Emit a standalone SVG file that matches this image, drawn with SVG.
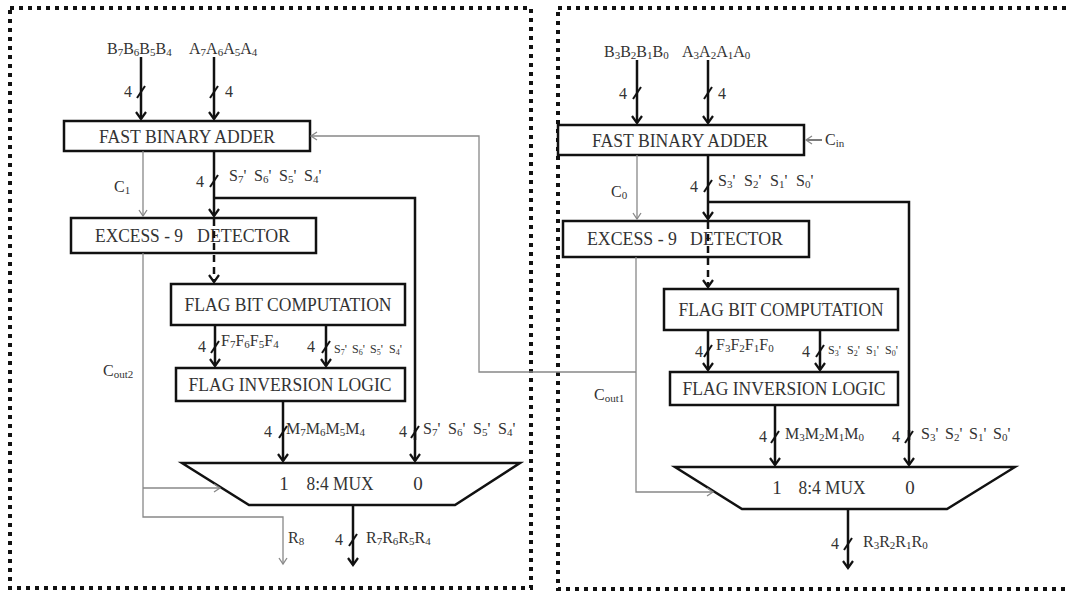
<svg xmlns="http://www.w3.org/2000/svg" width="1070" height="595" viewBox="0 0 1070 595">
<style>
.border{fill:none;stroke:#111;stroke-width:4;stroke-dasharray:4 5}
.box{fill:#fff;stroke:#111;stroke-width:2.5}
.bus{fill:none;stroke:#111;stroke-width:2.5;marker-end:url(#ah)}
.busn{fill:none;stroke:#111;stroke-width:2.5}
.dash{fill:none;stroke:#111;stroke-width:2.5;stroke-dasharray:7 5;marker-end:url(#ah)}
.thin{fill:none;stroke:#888;stroke-width:1.3;marker-end:url(#ta)}
.sl{stroke:#111;stroke-width:2}
.t{font-family:"Liberation Serif","Times New Roman",serif;fill:#333;font-size:16px}
.bt{font-family:"Liberation Serif","Times New Roman",serif;fill:#333;font-size:19px}
.sm{font-size:12px}
.sb{font-size:11px}
.sbs{font-size:8px}
</style>
<defs>
<marker id="ah" viewBox="-9 -7 11 14" markerWidth="11" markerHeight="14" refX="0" refY="0" orient="auto" markerUnits="userSpaceOnUse">
<path d="M-7,-5 L0,0 L-7,5" fill="none" stroke="#111" stroke-width="2.2"/>
</marker>
<marker id="ta" viewBox="-7 -5 9 10" markerWidth="9" markerHeight="10" refX="0" refY="0" orient="auto" markerUnits="userSpaceOnUse">
<path d="M-6,-4 L0,0 L-6,4" fill="none" stroke="#888" stroke-width="1.3"/>
</marker>
</defs>
<rect width="1070" height="595" fill="#fff"/>
<g id="borders">
<rect class="border" x="10" y="8" width="521" height="580"/>
<rect class="border" x="558" y="8" width="530" height="581"/>
</g>

<g id="left-adder">
<rect class="box" x="64" y="121" width="246" height="30"/>
<text class="bt" x="187" y="143" text-anchor="middle" textLength="176" lengthAdjust="spacingAndGlyphs">FAST BINARY ADDER</text>
</g>
<g id="left-excess">
<rect class="box" x="71" y="218" width="245" height="35"/>
<text class="bt" x="95" y="242" textLength="88" lengthAdjust="spacingAndGlyphs">EXCESS - 9</text>
<text class="bt" x="197" y="242" textLength="93" lengthAdjust="spacingAndGlyphs">DETECTOR</text>
</g>
<g id="left-flagbit">
<rect class="box" x="171" y="284" width="234" height="41"/>
<text class="bt" x="288" y="311" text-anchor="middle" textLength="207" lengthAdjust="spacingAndGlyphs">FLAG BIT COMPUTATION</text>
</g>
<g id="left-flaginv">
<rect class="box" x="176" y="368" width="229" height="33"/>
<text class="bt" x="290" y="391" text-anchor="middle" textLength="203" lengthAdjust="spacingAndGlyphs">FLAG INVERSION LOGIC</text>
</g>
<g id="left-mux">
<polygon class="box" points="182,463 520,463 455,505 249,505"/>
<text class="bt" x="284" y="490" text-anchor="middle">1</text>
<text class="bt" x="340" y="490" text-anchor="middle" textLength="67" lengthAdjust="spacingAndGlyphs">8:4 MUX</text>
<text class="bt" x="418" y="490" text-anchor="middle">0</text>
</g>

<g id="right-adder">
<rect class="box" x="558" y="125" width="246" height="30"/>
<text class="bt" x="680" y="147" text-anchor="middle" textLength="176" lengthAdjust="spacingAndGlyphs">FAST BINARY ADDER</text>
</g>
<g id="right-excess">
<rect class="box" x="563" y="221" width="246" height="36"/>
<text class="bt" x="587" y="245" textLength="90" lengthAdjust="spacingAndGlyphs">EXCESS - 9</text>
<text class="bt" x="690" y="245" textLength="93" lengthAdjust="spacingAndGlyphs">DETECTOR</text>
</g>
<g id="right-flagbit">
<rect class="box" x="664" y="289" width="234" height="41"/>
<text class="bt" x="781" y="316" text-anchor="middle" textLength="205" lengthAdjust="spacingAndGlyphs">FLAG BIT COMPUTATION</text>
</g>
<g id="right-flaginv">
<rect class="box" x="670" y="372" width="228" height="33"/>
<text class="bt" x="784" y="395" text-anchor="middle" textLength="203" lengthAdjust="spacingAndGlyphs">FLAG INVERSION LOGIC</text>
</g>
<g id="right-mux">
<polygon class="box" points="675,467 1015,467 947,509 742,509"/>
<text class="bt" x="777" y="494" text-anchor="middle">1</text>
<text class="bt" x="832" y="494" text-anchor="middle" textLength="67" lengthAdjust="spacingAndGlyphs">8:4 MUX</text>
<text class="bt" x="910" y="494" text-anchor="middle">0</text>
</g>

<g id="connectors">
<!-- left block -->
<path class="bus" d="M141,57 V119"/>
<path class="bus" d="M214,57 V119"/>
<path class="bus" d="M214,151 V216"/>
<path class="busn" d="M214,198 H415 V440"/>
<path class="bus" d="M415,430 V461"/>
<path class="dash" d="M214,219 V282"/>
<path class="bus" d="M215,325 V366"/>
<path class="bus" d="M326,325 V366"/>
<path class="bus" d="M283,401 V461"/>
<path class="bus" d="M353,505 V565"/>
<path class="thin" d="M143,151 V216"/>
<path class="thin" d="M143,253 V517 H283 V564"/>
<path class="thin" d="M143,488 H220"/>
<!-- right block -->
<path class="bus" d="M637,60 V123"/>
<path class="bus" d="M708,60 V123"/>
<path class="bus" d="M708,155 V219"/>
<path class="busn" d="M708,202 H909 V440"/>
<path class="bus" d="M909,430 V465"/>
<path class="dash" d="M708,222 V287"/>
<path class="bus" d="M708,330 V370"/>
<path class="bus" d="M820,330 V370"/>
<path class="bus" d="M775,405 V465"/>
<path class="bus" d="M848,509 V568"/>
<path class="thin" d="M637,155 V219"/>
<path class="thin" d="M636,257 V492 H713"/>
<path class="thin" d="M636,372 H479 V136 H311"/>
<path d="M822,140 H806" fill="none" stroke="#333" stroke-width="1.3" marker-end="url(#ta)"/>
<!-- bus width slashes -->
<g class="sl">
<line x1="137" y1="98" x2="145" y2="86"/>
<line x1="210" y1="98" x2="218" y2="86"/>
<line x1="210" y1="187" x2="218" y2="175"/>
<line x1="211" y1="353" x2="219" y2="341"/>
<line x1="322" y1="353" x2="330" y2="341"/>
<line x1="279" y1="438" x2="287" y2="426"/>
<line x1="411" y1="438" x2="419" y2="426"/>
<line x1="349" y1="546" x2="357" y2="534"/>
<line x1="633" y1="99" x2="641" y2="87"/>
<line x1="704" y1="99" x2="712" y2="87"/>
<line x1="704" y1="192" x2="712" y2="180"/>
<line x1="704" y1="357" x2="712" y2="345"/>
<line x1="816" y1="357" x2="824" y2="345"/>
<line x1="771" y1="443" x2="779" y2="431"/>
<line x1="905" y1="443" x2="913" y2="431"/>
<line x1="844" y1="550" x2="852" y2="538"/>
</g>
</g>

<g id="labels">
<!-- left -->
<text class="t" x="107" y="54">B<tspan class="sb" dy="2">7</tspan><tspan dy="-2">B</tspan><tspan class="sb" dy="2">6</tspan><tspan dy="-2">B</tspan><tspan class="sb" dy="2">5</tspan><tspan dy="-2">B</tspan><tspan class="sb" dy="2">4</tspan></text>
<text class="t" x="189" y="54">A<tspan class="sb" dy="2">7</tspan><tspan dy="-2">A</tspan><tspan class="sb" dy="2">6</tspan><tspan dy="-2">A</tspan><tspan class="sb" dy="2">5</tspan><tspan dy="-2">A</tspan><tspan class="sb" dy="2">4</tspan></text>
<text class="t" x="128" y="97" text-anchor="middle">4</text>
<text class="t" x="229" y="97" text-anchor="middle">4</text>
<text class="t" x="200" y="187" text-anchor="middle">4</text>
<text class="t" y="181"><tspan x="229">S</tspan><tspan class="sb" dy="2">7</tspan><tspan dy="-2">'</tspan><tspan x="254">S</tspan><tspan class="sb" dy="2">6</tspan><tspan dy="-2">'</tspan><tspan x="279">S</tspan><tspan class="sb" dy="2">5</tspan><tspan dy="-2">'</tspan><tspan x="304">S</tspan><tspan class="sb" dy="2">4</tspan><tspan dy="-2">'</tspan></text>
<text class="t" x="114" y="192">C<tspan class="sb" dy="2">1</tspan></text>
<text class="t" x="202" y="352" text-anchor="middle">4</text>
<text class="t" x="221" y="346">F<tspan class="sb" dy="2">7</tspan><tspan dy="-2">F</tspan><tspan class="sb" dy="2">6</tspan><tspan dy="-2">F</tspan><tspan class="sb" dy="2">5</tspan><tspan dy="-2">F</tspan><tspan class="sb" dy="2">4</tspan></text>
<text class="t" x="311" y="352" text-anchor="middle">4</text>
<text class="t sm" y="353"><tspan x="334">S</tspan><tspan class="sbs" dy="2">7</tspan><tspan dy="-2">'</tspan><tspan x="352">S</tspan><tspan class="sbs" dy="2">6</tspan><tspan dy="-2">'</tspan><tspan x="370">S</tspan><tspan class="sbs" dy="2">5</tspan><tspan dy="-2">'</tspan><tspan x="389">S</tspan><tspan class="sbs" dy="2">4</tspan><tspan dy="-2">'</tspan></text>
<text class="t" x="103" y="376">C<tspan class="sb" dy="2">out2</tspan></text>
<text class="t" x="268" y="437" text-anchor="middle">4</text>
<text class="t" x="286" y="434">M<tspan class="sb" dy="2">7</tspan><tspan dy="-2">M</tspan><tspan class="sb" dy="2">6</tspan><tspan dy="-2">M</tspan><tspan class="sb" dy="2">5</tspan><tspan dy="-2">M</tspan><tspan class="sb" dy="2">4</tspan></text>
<text class="t" x="403" y="437" text-anchor="middle">4</text>
<text class="t" y="434"><tspan x="423">S</tspan><tspan class="sb" dy="2">7</tspan><tspan dy="-2">'</tspan><tspan x="448">S</tspan><tspan class="sb" dy="2">6</tspan><tspan dy="-2">'</tspan><tspan x="473">S</tspan><tspan class="sb" dy="2">5</tspan><tspan dy="-2">'</tspan><tspan x="498">S</tspan><tspan class="sb" dy="2">4</tspan><tspan dy="-2">'</tspan></text>
<text class="t" x="288" y="543">R<tspan class="sb" dy="2">8</tspan></text>
<text class="t" x="339" y="545" text-anchor="middle">4</text>
<text class="t" x="366" y="543">R<tspan class="sb" dy="2">7</tspan><tspan dy="-2">R</tspan><tspan class="sb" dy="2">6</tspan><tspan dy="-2">R</tspan><tspan class="sb" dy="2">5</tspan><tspan dy="-2">R</tspan><tspan class="sb" dy="2">4</tspan></text>
<!-- right -->
<text class="t" x="604" y="57">B<tspan class="sb" dy="2">3</tspan><tspan dy="-2">B</tspan><tspan class="sb" dy="2">2</tspan><tspan dy="-2">B</tspan><tspan class="sb" dy="2">1</tspan><tspan dy="-2">B</tspan><tspan class="sb" dy="2">0</tspan></text>
<text class="t" x="682" y="57">A<tspan class="sb" dy="2">3</tspan><tspan dy="-2">A</tspan><tspan class="sb" dy="2">2</tspan><tspan dy="-2">A</tspan><tspan class="sb" dy="2">1</tspan><tspan dy="-2">A</tspan><tspan class="sb" dy="2">0</tspan></text>
<text class="t" x="623" y="99" text-anchor="middle">4</text>
<text class="t" x="722" y="99" text-anchor="middle">4</text>
<text class="t" x="825" y="145">C<tspan class="sb" dy="2">in</tspan></text>
<text class="t" x="694" y="192" text-anchor="middle">4</text>
<text class="t" y="186"><tspan x="718">S</tspan><tspan class="sb" dy="2">3</tspan><tspan dy="-2">'</tspan><tspan x="744">S</tspan><tspan class="sb" dy="2">2</tspan><tspan dy="-2">'</tspan><tspan x="770">S</tspan><tspan class="sb" dy="2">1</tspan><tspan dy="-2">'</tspan><tspan x="796">S</tspan><tspan class="sb" dy="2">0</tspan><tspan dy="-2">'</tspan></text>
<text class="t" x="611" y="197">C<tspan class="sb" dy="2">0</tspan></text>
<text class="t" x="699" y="357" text-anchor="middle">4</text>
<text class="t" x="716" y="350">F<tspan class="sb" dy="2">3</tspan><tspan dy="-2">F</tspan><tspan class="sb" dy="2">2</tspan><tspan dy="-2">F</tspan><tspan class="sb" dy="2">1</tspan><tspan dy="-2">F</tspan><tspan class="sb" dy="2">0</tspan></text>
<text class="t" x="806" y="357" text-anchor="middle">4</text>
<text class="t sm" y="354"><tspan x="828">S</tspan><tspan class="sbs" dy="2">3</tspan><tspan dy="-2">'</tspan><tspan x="847">S</tspan><tspan class="sbs" dy="2">2</tspan><tspan dy="-2">'</tspan><tspan x="866">S</tspan><tspan class="sbs" dy="2">1</tspan><tspan dy="-2">'</tspan><tspan x="885">S</tspan><tspan class="sbs" dy="2">0</tspan><tspan dy="-2">'</tspan></text>
<text class="t" x="594" y="400">C<tspan class="sb" dy="2">out1</tspan></text>
<text class="t" x="763" y="442" text-anchor="middle">4</text>
<text class="t" x="785" y="439">M<tspan class="sb" dy="2">3</tspan><tspan dy="-2">M</tspan><tspan class="sb" dy="2">2</tspan><tspan dy="-2">M</tspan><tspan class="sb" dy="2">1</tspan><tspan dy="-2">M</tspan><tspan class="sb" dy="2">0</tspan></text>
<text class="t" x="896" y="442" text-anchor="middle">4</text>
<text class="t" y="439"><tspan x="921">S</tspan><tspan class="sb" dy="2">3</tspan><tspan dy="-2">'</tspan><tspan x="945">S</tspan><tspan class="sb" dy="2">2</tspan><tspan dy="-2">'</tspan><tspan x="969">S</tspan><tspan class="sb" dy="2">1</tspan><tspan dy="-2">'</tspan><tspan x="993">S</tspan><tspan class="sb" dy="2">0</tspan><tspan dy="-2">'</tspan></text>
<text class="t" x="835" y="549" text-anchor="middle">4</text>
<text class="t" x="863" y="547">R<tspan class="sb" dy="2">3</tspan><tspan dy="-2">R</tspan><tspan class="sb" dy="2">2</tspan><tspan dy="-2">R</tspan><tspan class="sb" dy="2">1</tspan><tspan dy="-2">R</tspan><tspan class="sb" dy="2">0</tspan></text>
</g>
</svg>
